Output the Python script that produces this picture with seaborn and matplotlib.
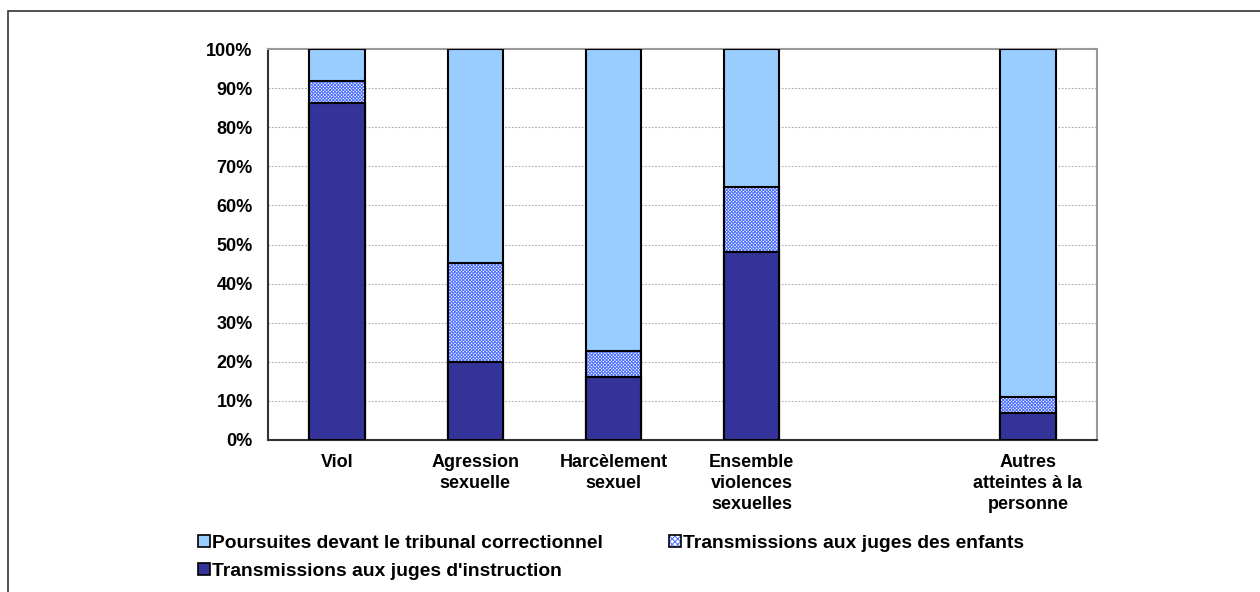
import matplotlib
matplotlib.use("Agg")
import matplotlib.pyplot as plt
from matplotlib.patches import Patch, Rectangle
from matplotlib.legend_handler import HandlerTuple
import numpy as np
import pandas as pd
import seaborn as sns

# Shares of each orientation by offence category (percent)
categories = ["Viol", "Agression\nsexuelle", "Harcèlement\nsexuel",
              "Ensemble\nviolences\nsexuelles", " ", "Autres\natteintes à la\npersonne"]
instruction = [86.3, 19.9, 16.0, 48.0, np.nan, 7.0]
enfants = [5.6, 25.3, 6.8, 16.8, np.nan, 4.1]
tribunal = [8.1, 54.8, 77.2, 35.2, np.nan, 88.9]

labels = {
    "tribunal": "Poursuites devant le tribunal correctionnel",
    "enfants": "Transmissions aux juges des enfants",
    "instruction": "Transmissions aux juges d'instruction",
}

c_light = "#99CCFF"
c_dark = "#333399"
c_hatch = "#4D6FFF"
hatch = "xxxxxxxxxx"

sns.set_style("white")
plt.rcParams["font.family"] = ["Liberation Sans", "DejaVu Sans"]
plt.rcParams["font.weight"] = "bold"
plt.rcParams["text.color"] = "black"
plt.rcParams["xtick.color"] = "black"
plt.rcParams["ytick.color"] = "black"
plt.rcParams["hatch.linewidth"] = 0.7

df = pd.DataFrame({
    "cat": categories,
    "instruction": instruction,
    "enfants": enfants,
    "tribunal": tribunal,
})
df["cum_enf"] = df["instruction"] + df["enfants"]
df["cum_all"] = df["cum_enf"] + df["tribunal"]

fig = plt.figure(figsize=(12.6, 5.92), dpi=100)
ax = fig.add_axes([268 / 1260, 1 - 440 / 592, (1097 - 268) / 1260, (440 - 49) / 592])

# chart-area frame (top and left edges)
fig.add_artist(Rectangle((8 / 1260, -0.1), 1.2, 1 - 11 / 592 + 0.1,
                         transform=fig.transFigure, fill=False,
                         edgecolor="#333333", linewidth=1.2, zorder=0))

bw = 0.4
common = dict(data=df, x="cat", order=categories, width=bw, ax=ax,
              errorbar=None, zorder=3)

# full stack (tribunal on top)
sns.barplot(y="cum_all", color=c_light, edgecolor="black", linewidth=1.5,
            saturation=1, **common)
# juges des enfants: white base with blue hatch, then black outline
sns.barplot(y="cum_enf", color="white", edgecolor=c_hatch, linewidth=0,
            hatch=hatch, saturation=1, **common)
sns.barplot(y="cum_enf", fill=False, edgecolor="black", linewidth=1.5, **common)
# juges d'instruction
sns.barplot(y="instruction", color=c_dark, edgecolor="black", linewidth=1.5,
            saturation=1, **common)

fs = 13
ax.set_ylim(0, 100)
ax.set_xlim(-0.5, len(categories) - 0.5)
ax.set_yticks(np.arange(0, 101, 10))
ax.set_yticklabels([f"{v}%" for v in range(0, 101, 10)], fontsize=fs, fontweight="bold")
ax.set_xticks(range(len(categories)))
ax.set_xticklabels(categories, fontsize=fs, fontweight="bold", linespacing=1.3)
ax.set_xlabel("")
ax.set_ylabel("")

# category boundary ticks on the x axis
ax.set_xticks(np.arange(-0.5, len(categories), 1.0), minor=True)
ax.tick_params(axis="x", which="major", length=0, pad=10)
ax.tick_params(axis="x", which="minor", length=5, width=1, color="#333333", direction="out")
ax.tick_params(axis="y", length=5, width=1, color="#333333", direction="out", pad=6)

for y in range(10, 100, 10):
    ax.axhline(y, color="#AAAAAA", linewidth=0.8, linestyle=(0, (1.5, 1.5)), zorder=1)

for side in ["left", "bottom"]:
    ax.spines[side].set_color("#333333")
    ax.spines[side].set_linewidth(1.5)
for side in ["top", "right"]:
    ax.spines[side].set_color("#999999")
    ax.spines[side].set_linewidth(1.5)

h_trib = Patch(facecolor=c_light, edgecolor="black", linewidth=1.2)
h_instr = Patch(facecolor=c_dark, edgecolor="black", linewidth=1.2)
h_enf = (Patch(facecolor="white", edgecolor=c_hatch, linewidth=0, hatch="xxxxxx"),
         Patch(facecolor="none", edgecolor="black", linewidth=1.2))
leg = fig.legend(handles=[h_trib, h_instr, h_enf],
                 labels=[labels["tribunal"], labels["instruction"], labels["enfants"]],
                 handler_map={tuple: HandlerTuple(ndivide=1, pad=0)},
                 ncol=2, loc="upper left",
                 bbox_to_anchor=(198 / 1260, 1 - 535 / 592), frameon=False,
                 prop={"size": 13.9, "weight": "bold"}, handlelength=0.6,
                 handleheight=0.6, handletextpad=0.15, columnspacing=3.4,
                 labelspacing=0.55, borderaxespad=0, borderpad=0)

fig.savefig("out.png", dpi=100)
